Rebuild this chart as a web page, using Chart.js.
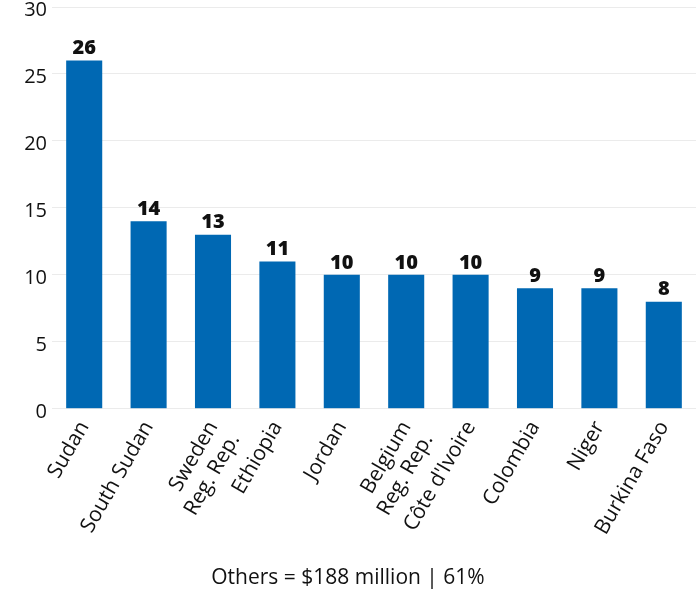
<!DOCTYPE html>
<html>
<head>
<meta charset="utf-8">
<script src="https://cdn.jsdelivr.net/npm/chart.js@4"></script>
<style>
  html, body { margin: 0; padding: 0; background: #fff; }
  #wrap { width: 700px; height: 598px; }
</style>
</head>
<body>
<div id="wrap"><canvas id="chart" width="700" height="598"></canvas></div>
<script>
// chart data
const countries = ['Sudan', 'South Sudan', ['Sweden', 'Reg. Rep.'], 'Ethiopia', 'Jordan',
  ['Belgium', 'Reg. Rep.'], "Côte d'Ivoire", 'Colombia', 'Niger', 'Burkina Faso'];
const amounts = [26, 14, 13, 11, 10, 10, 10, 9, 9, 8];
const yTicks = [0, 5, 10, 15, 20, 25, 30];
const footnote = 'Others = $188 million | 61%';

const FONT = '"Open Sans", sans-serif';

// draw the value above each bar
const valueLabels = {
  id: 'valueLabels',
  afterDatasetsDraw(chart) {
    const ctx = chart.ctx;
    const meta = chart.getDatasetMeta(0);
    ctx.save();
    ctx.font = '800 20px ' + FONT;
    ctx.fillStyle = '#111';
    ctx.textAlign = 'center';
    ctx.textBaseline = 'bottom';
    meta.data.forEach((bar, i) => {
      ctx.fillText(amounts[i], bar.x, bar.y - 2);
    });
    ctx.restore();
  }
};

const ctx = document.getElementById('chart').getContext('2d');
const chart = new Chart(ctx, {
  type: 'bar',
  data: {
    labels: countries,
    datasets: [{
      data: amounts,
      backgroundColor: '#0068b3',
      barPercentage: 0.56,
      categoryPercentage: 1
    }]
  },
  options: {
    responsive: false,
    animation: false,
    layout: { padding: { top: 0, right: 4, left: 0, bottom: 0 } },
    plugins: {
      legend: { display: false },
      tooltip: { enabled: false },
      title: {
        display: true,
        position: 'bottom',
        text: footnote,
        color: '#111',
        font: { family: FONT, size: 21, weight: 'normal' },
        padding: { top: 6, bottom: 7 }
      }
    },
    scales: {
      x: {
        grid: { display: false },
        border: { display: false },
        afterFit(axis) { axis.height = 151; },
        ticks: {
          color: '#111',
          font: { family: FONT, size: 21 },
          minRotation: 60,
          maxRotation: 60,
          autoSkip: false,
          padding: 0
        }
      },
      y: {
        min: 0,
        max: 30,
        afterBuildTicks(axis) { axis.ticks = yTicks.map(v => ({ value: v })); },
        afterFit(axis) { axis.width = 52; axis.paddingTop = 7; },
        grid: { color: '#ebebeb', drawTicks: false },
        border: { display: false },
        ticks: {
          color: '#111',
          // empty first line nudges the number a few px below its gridline
          callback: v => ['', String(v)],
          font: { family: FONT, size: 20, lineHeight: 0.3 },
          padding: 5
        }
      }
    }
  },
  plugins: [valueLabels]
});
</script>
</body>
</html>
